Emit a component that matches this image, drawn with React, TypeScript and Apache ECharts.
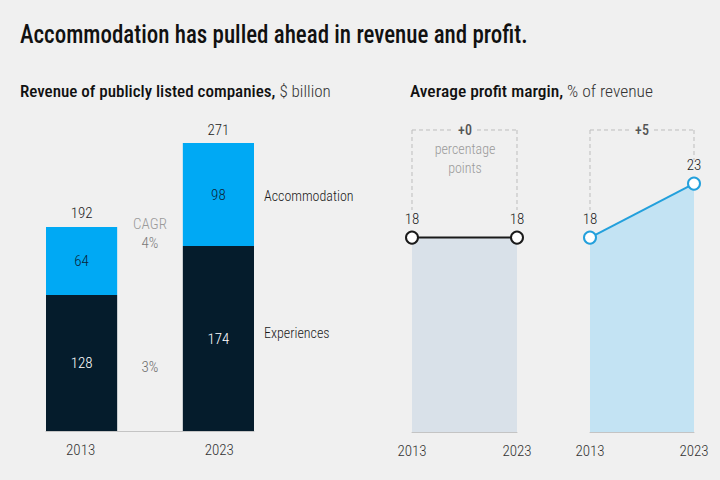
import React, { useEffect, useRef } from 'react';
import * as echarts from 'echarts';

// ---------- data ----------
const revenueYears = ['2013', '', '2023'];
const experiencesRevenue = [128, null, 174];
const accommodationRevenue = [64, null, 98];
const totalRevenue = [192, null, 271];
const cagrHeader = 'CAGR';
const cagrAccommodation = '4%';
const cagrExperiences = '3%';
const marginYears = ['2013', '2023'];
const experiencesMargin = [18, 18];
const accommodationMargin = [18, 23];
const marginChanges = ['+0', '+5'];

const FONT = "'Liberation Sans Narrow', 'Roboto Condensed', 'DejaVu Sans Condensed', Roboto, 'Liberation Sans', sans-serif";
const NAVY = '#051c2c';
const BRIGHT = '#00a9f4';
const BG = '#f0f0f0';
const LW = 300;

function measure(text: string, size: number, weight: string) {
  const c = document.createElement('canvas');
  const ctx = c.getContext('2d');
  if (!ctx) return text.length * size * 0.5;
  ctx.font = `${weight} ${size}px ${FONT}`;
  return ctx.measureText(text).width;
}

function txt(text: string, x: number, y: number, o: any = {}) {
  return {
    type: 'text',
    x,
    y,
    silent: true,
    style: {
      text,
      fill: o.fill || '#222',
      fontSize: o.fontSize || 15,
      fontFamily: FONT,
      fontWeight: o.fontWeight || LW,
      align: o.align || 'center',
      verticalAlign: 'middle',
    },
  };
}

function dash(x1: number, y1: number, x2: number, y2: number) {
  return {
    type: 'line',
    silent: true,
    shape: { x1, y1, x2, y2 },
    style: { stroke: '#bdbdbd', lineWidth: 1, lineDash: [4, 3] },
  };
}

export default function App() {
  const ref = useRef<HTMLDivElement>(null);

  useEffect(() => {
    if (!ref.current) return;
    const chart = echarts.init(ref.current, null, { renderer: 'svg' });

    const title = 'Accommodation has pulled ahead in revenue and profit.';
    const tSize = 25;
    const tScale = 508 / measure(title, tSize, '500');

    const s1b = 'Revenue of publicly listed companies,';
    const s1r = ' $ billion';
    const s2b = 'Average profit margin,';
    const s2r = ' % of revenue';
    const sSize = 17;
    const s1Scale = 311 / (measure(s1b, sSize, '500') + measure(s1r, sSize, String(LW)));
    const s2Scale = 243 / (measure(s2b, sSize, '500') + measure(s2r, sSize, String(LW)));

    const sub = (b: string, r: string, x: number, sc: number) => ({
      type: 'text',
      x,
      y: 91,
      scaleX: sc,
      silent: true,
      style: {
        text: `{b|${b}}{r|${r}}`,
        fontFamily: FONT,
        fontSize: sSize,
        verticalAlign: 'middle',
        align: 'left',
        rich: {
          b: { fontWeight: 500, fill: '#111', fontSize: sSize, fontFamily: FONT },
          r: { fontWeight: LW, fill: '#333', fontSize: sSize, fontFamily: FONT },
        },
      },
    });

    const lineLabel = {
      show: true,
      position: 'top',
      distance: 4,
      color: '#222',
      fontSize: 15,
      fontWeight: LW,
      fontFamily: FONT,
    };

    const axisLabel = { color: '#333', fontSize: 15, fontWeight: LW, fontFamily: FONT, margin: 11 };

    const marginXAxis = (gi: number) => ({
      type: 'category',
      gridIndex: gi,
      data: marginYears,
      boundaryGap: false,
      axisLine: { lineStyle: { color: '#c4c4c4', width: 1 } },
      axisTick: { show: false },
      axisLabel,
    });

    chart.setOption({
      animation: false,
      backgroundColor: BG,
      textStyle: { fontFamily: FONT },
      grid: [
        { left: 46, width: 208, top: 143, bottom: 49 },
        { left: 412, width: 105, top: 162, bottom: 48 },
        { left: 590, width: 104, top: 162, bottom: 48 },
      ],
      xAxis: [
        {
          type: 'category',
          gridIndex: 0,
          data: revenueYears,
          axisLine: { lineStyle: { color: '#c4c4c4', width: 1 } },
          axisTick: { show: false },
          axisLabel,
        },
        marginXAxis(1),
        marginXAxis(2),
      ],
      yAxis: [
        { type: 'value', gridIndex: 0, min: 0, max: 271, show: false },
        { type: 'value', gridIndex: 1, min: 0, max: 25, show: false },
        { type: 'value', gridIndex: 2, min: 0, max: 25, show: false },
      ],
      series: [
        {
          name: 'Experiences',
          type: 'bar',
          xAxisIndex: 0,
          yAxisIndex: 0,
          stack: 'rev',
          barWidth: 73,
          data: experiencesRevenue,
          itemStyle: { color: NAVY },
          label: { show: true, position: 'inside', color: '#fff', fontSize: 15, fontWeight: LW, fontFamily: FONT },
        },
        {
          name: 'Accommodation',
          type: 'bar',
          xAxisIndex: 0,
          yAxisIndex: 0,
          stack: 'rev',
          barWidth: 73,
          data: accommodationRevenue,
          itemStyle: { color: BRIGHT },
          label: { show: true, position: 'inside', color: '#0b2438', fontSize: 15, fontWeight: LW, fontFamily: FONT },
        },
        {
          name: 'Total',
          type: 'bar',
          xAxisIndex: 0,
          yAxisIndex: 0,
          barWidth: 73,
          barGap: '-100%',
          data: totalRevenue,
          silent: true,
          z: 1,
          itemStyle: { color: 'rgba(0,0,0,0)' },
          label: { show: true, position: 'top', distance: 6, color: '#222', fontSize: 15, fontWeight: LW, fontFamily: FONT },
        },
        {
          name: 'Experiences margin',
          type: 'line',
          xAxisIndex: 1,
          yAxisIndex: 1,
          data: experiencesMargin,
          symbol: 'circle',
          symbolSize: 12,
          lineStyle: { color: '#1a1a1a', width: 2 },
          itemStyle: { color: '#fff', borderColor: '#1a1a1a', borderWidth: 2 },
          areaStyle: { color: '#d9e1e9', opacity: 1 },
          label: lineLabel,
        },
        {
          name: 'Accommodation margin',
          type: 'line',
          xAxisIndex: 2,
          yAxisIndex: 2,
          data: accommodationMargin,
          symbol: 'circle',
          symbolSize: 12,
          lineStyle: { color: '#23a0dc', width: 2 },
          itemStyle: { color: '#fff', borderColor: '#23a0dc', borderWidth: 2 },
          areaStyle: { color: '#c3e3f3', opacity: 1 },
          label: lineLabel,
        },
      ],
      graphic: [
        {
          type: 'text',
          x: 20,
          y: 35,
          scaleX: tScale,
          silent: true,
          style: {
            text: title,
            fill: '#111',
            fontSize: tSize,
            fontWeight: 500,
            fontFamily: FONT,
            align: 'left',
            verticalAlign: 'middle',
          },
        },
        sub(s1b, s1r, 20, s1Scale),
        sub(s2b, s2r, 410, s2Scale),
        txt(cagrHeader, 150, 224, { fill: '#9a9a9a' }),
        txt(cagrAccommodation, 150, 243, { fill: '#7a7a7a' }),
        txt(cagrExperiences, 150, 367, { fill: '#6a6a6a' }),
        txt('Accommodation', 264, 196, { align: 'left', fontSize: 14, fill: '#1a1a1a' }),
        txt('Experiences', 264, 333, { align: 'left', fontSize: 14, fill: '#1a1a1a' }),
        // bracket panel 1
        dash(412, 130, 453, 130),
        dash(477, 130, 517, 130),
        dash(412, 130, 412, 210),
        dash(517, 130, 517, 210),
        txt(marginChanges[0], 465, 130, { fill: '#555', fontWeight: 500, fontSize: 14 }),
        txt('percentage', 465, 149, { fill: '#9a9a9a', fontSize: 14 }),
        txt('points', 465, 168, { fill: '#9a9a9a', fontSize: 14 }),
        // bracket panel 2
        dash(590, 130, 630, 130),
        dash(654, 130, 694, 130),
        dash(590, 130, 590, 210),
        dash(694, 130, 694, 160),
        txt(marginChanges[1], 642, 130, { fill: '#555', fontWeight: 500, fontSize: 14 }),
        // area labels
        txt('Experiences', 465, 387, { fontSize: 14, fill: '#1a1a1a' }),
        txt('Accommodation', 642, 387, { fontSize: 14, fill: '#1a1a1a' }),
      ],
    });

    return () => chart.dispose();
  }, []);

  return (
    <div
      ref={ref}
      style={{ position: 'fixed', left: 0, top: 0, width: 720, height: 480, background: BG }}
    />
  );
}
